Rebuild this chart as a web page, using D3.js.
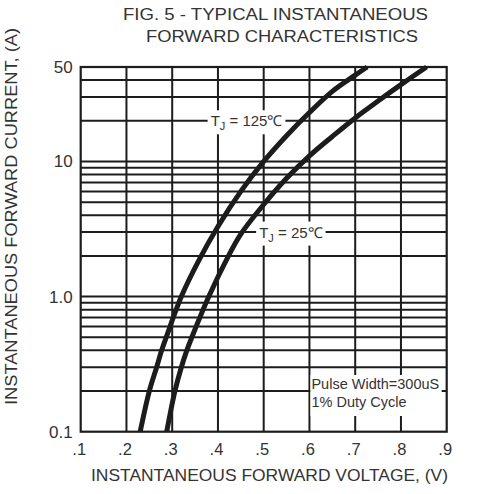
<!DOCTYPE html>
<html><head><meta charset="utf-8">
<script src="https://cdn.jsdelivr.net/npm/d3@7"></script>
<style>body{margin:0;background:#fff}svg{display:block}text{font-family:"Liberation Sans",Arial,sans-serif;fill:#333}</style>
</head><body><svg id="c" width="494" height="494"></svg>
<script>
// ---- data ----
const xTicks = [0.1,0.2,0.3,0.4,0.5,0.6,0.7,0.8,0.9];
const xTickLabels = [".1",".2",".3",".4",".5",".6",".7",".8",".9"];
const yTicks = [0.1,1,10,50];
const yTickLabels = ["0.1","1.0","10","50"];
const yGrid = [0.2,0.3,0.4,0.5,0.6,0.7,0.8,0.9,1,2,3,4,5,6,7,8,9,10,20,30,40];
const v125 = [0.23,0.25,0.266,0.277,0.287,0.32,0.36,0.4,0.45,0.5,0.55,0.6,0.65,0.7,0.726];
const i125 = [0.1,0.2,0.3,0.4,0.5,1.0,1.9,3.3,6.0,10,15.5,23,33,43.5,50];
const v25 = [0.288,0.306,0.32,0.332,0.343,0.38,0.423,0.45,0.5,0.55,0.6,0.65,0.7,0.75,0.8,0.856];
const i25 = [0.1,0.2,0.3,0.4,0.5,1.0,2.0,2.9,4.8,7.5,11,15.3,21,28,37,50];
const titleLines = ["FIG. 5 - TYPICAL INSTANTANEOUS","FORWARD CHARACTERISTICS"];
const xTitle = "INSTANTANEOUS FORWARD VOLTAGE, (V)";
const yTitle = "INSTANTANEOUS FORWARD CURRENT, (A)";
const seriesLabels = [{t:"125℃", v:0.384, i:20},{t:"25℃", v:0.49, i:3}];
const noteLines = ["Pulse Width=300uS","1% Duty Cycle"];

// ---- chart ----
const svg = d3.select("#c");
const L=80.7, R=446.7, T=67, B=431.7;
const x = d3.scaleLinear().domain([0.1,0.9]).range([L,R]);
const y = d3.scaleLog().domain([0.1,50]).range([B,T]);
const ink="#1c1c1c";

const g = svg.append("g");
g.selectAll("line.v").data(xTicks.slice(1,-1)).join("line")
  .attr("x1",d=>x(d)).attr("x2",d=>x(d)).attr("y1",T).attr("y2",B)
  .attr("stroke",ink).attr("stroke-width",2);
g.selectAll("line.h").data(yGrid).join("line")
  .attr("x1",L).attr("x2",R).attr("y1",d=>y(d)).attr("y2",d=>y(d))
  .attr("stroke",ink).attr("stroke-width",2);
g.append("rect").attr("x",L).attr("y",T).attr("width",R-L).attr("height",B-T)
  .attr("fill","none").attr("stroke",ink).attr("stroke-width",2.2);

seriesLabels.forEach(s=>{
  const lg = svg.append("g");
  const t = lg.append("text").attr("x",x(s.v)).attr("y",y(s.i)+5.5).attr("font-size",15);
  t.append("tspan").text("T");
  t.append("tspan").attr("font-size",11).attr("dy",4).text("J");
  t.append("tspan").attr("dy",-4).text(" = "+s.t);
  const bb = t.node().getBBox();
  lg.insert("rect","text").attr("x",bb.x-3).attr("y",bb.y-2).attr("width",bb.width+6).attr("height",bb.height+4).attr("fill","#fff");
});

{
  const ng = svg.append("g");
  const x0 = x(0.6)+2, y0 = y(0.2)-2;
  noteLines.forEach((s,k)=>ng.append("text").attr("x",x0).attr("y",y0+k*17.5).attr("font-size",14.5).text(s));
  ng.insert("rect","text").attr("x",x(0.6)+1).attr("y",y0-14).attr("width",R-x(0.6)-6).attr("height",41).attr("fill","#fff");
}

const line = d3.line().x(d=>x(d[0])).y(d=>y(d[1])).curve(d3.curveCatmullRom.alpha(0.5));
[[v125,i125],[v25,i25]].forEach(([vs,is])=>{
  svg.append("path").datum(vs.map((v,k)=>[v,is[k]])).attr("d",line)
    .attr("fill","none").attr("stroke",ink).attr("stroke-width",5);
});

const xa = svg.append("g").attr("transform",`translate(-2,${B})`)
  .call(d3.axisBottom(x).tickValues(xTicks).tickFormat((d,k)=>xTickLabels[k]).tickSize(0).tickPadding(12));
xa.select(".domain").remove();
xa.selectAll("text").attr("font-size",16.5).attr("font-family","Liberation Sans, Arial, sans-serif").attr("fill","#333");
const ya = svg.append("g").attr("transform",`translate(${L-8},0)`)
  .call(d3.axisLeft(y).tickValues(yTicks).tickFormat((d,k)=>yTickLabels[k]).tickSize(0).tickPadding(0));
ya.select(".domain").remove();
ya.selectAll("text").attr("font-size",17).attr("font-family","Liberation Sans, Arial, sans-serif").attr("fill","#333");

svg.append("text").attr("x",275.5).attr("y",19.5).attr("text-anchor","middle").attr("font-size",16)
  .attr("textLength",305).attr("lengthAdjust","spacingAndGlyphs").text(titleLines[0]);
svg.append("text").attr("x",282).attr("y",41.5).attr("text-anchor","middle").attr("font-size",16)
  .attr("textLength",272).attr("lengthAdjust","spacingAndGlyphs").text(titleLines[1]);
svg.append("text").attr("x",269.5).attr("y",481).attr("text-anchor","middle").attr("font-size",17)
  .attr("textLength",357).attr("lengthAdjust","spacingAndGlyphs").text(xTitle);
svg.append("text").attr("transform","translate(16.5,216.5) rotate(-90)").attr("text-anchor","middle").attr("font-size",16)
  .attr("textLength",377).attr("lengthAdjust","spacingAndGlyphs").text(yTitle);
</script></body></html>
